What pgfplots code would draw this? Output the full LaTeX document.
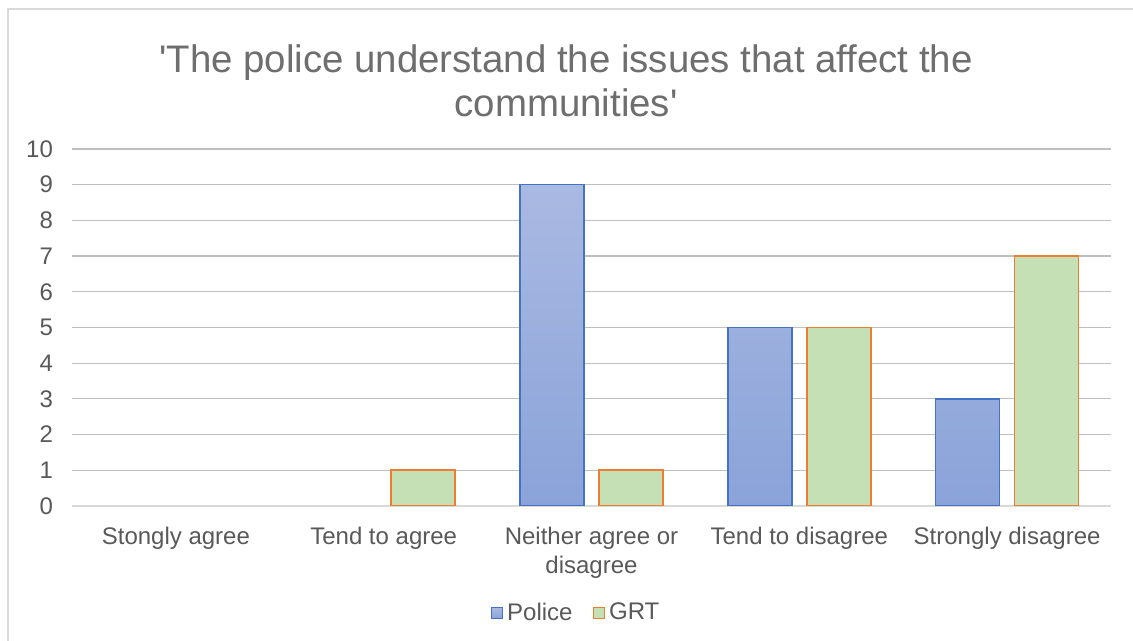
\documentclass[border=0pt]{standalone}
\usepackage{pgfplots}
\pgfplotsset{compat=1.18}
\usepackage{fontspec}
\setmainfont{Liberation Sans}
\definecolor{txt}{HTML}{595959}
\definecolor{ttl}{HTML}{6E6E6E}
\definecolor{grid}{HTML}{D9D9D9}
\definecolor{polb}{HTML}{4472C4}
\definecolor{poltop}{HTML}{AAB9E2}
\definecolor{polbot}{HTML}{8AA3D9}
\definecolor{grtf}{HTML}{C5E0B4}
\definecolor{grtb}{HTML}{ED7D31}
\begin{document}
\begin{tikzpicture}
\useasboundingbox (0pt,0pt) rectangle (566.5pt,320.5pt);
\fill[white] (0pt,0pt) rectangle (566.5pt,320.5pt);
\draw[grid, line width=0.8pt] (4pt,0pt) -- (4pt,316pt) -- (566.5pt,316pt);
\node[anchor=base, text=ttl, font=\fontsize{19.2}{22}\selectfont] at (283pt,284pt) {\textquotesingle The police understand the issues that affect the};
\node[anchor=base, text=ttl, font=\fontsize{19.2}{22}\selectfont] at (283pt,262pt) {communities\textquotesingle};
\begin{axis}[
  at={(36pt,67.5pt)}, anchor=south west,
  width=519.5pt, height=178.5pt, scale only axis,
  xmin=-0.5, xmax=4.5, ymin=0, ymax=10,
  ybar=7.5pt, bar width=32pt,
  xtick={0,1,2,3,4},
  xticklabels={Stongly agree,Tend to agree,{Neither agree or\\disagree},Tend to disagree,Strongly disagree},
  ytick={0,1,...,10},
  axis lines*=left,
  y axis line style={draw=none},
  x axis line style={grid, line width=0.7pt, -},
  major tick length=0pt,
  xmajorgrids=false,
  ymajorgrids=true, grid style={grid, line width=0.6pt},
  tick label style={text=txt, font=\fontsize{12}{14.5}\selectfont},
  xticklabel style={align=center, yshift=-7pt},
  yticklabel style={xshift=-6pt},
  /pgf/number format/assume math mode=true,
  legend columns=2,
  legend style={draw=none, fill=none, at={(0.486,-0.30)}, anchor=center,
    font=\fontsize{12}{14}\selectfont, text=txt,
    /tikz/every even column/.append style={column sep=8pt}},
  legend image code/.code={\draw[#1] (0pt,-2.75pt) rectangle (5.5pt,2.75pt);},
]
\addplot[draw=polb, line width=0.8pt, top color=poltop, bottom color=polbot]
  coordinates {(2,9) (3,5) (4,3)};
\addlegendentry{Police}
\addplot[draw=grtb, line width=0.8pt, fill=grtf]
  coordinates {(1,1) (2,1) (3,5) (4,7)};
\addlegendentry{GRT}
\end{axis}
\end{tikzpicture}
\end{document}
